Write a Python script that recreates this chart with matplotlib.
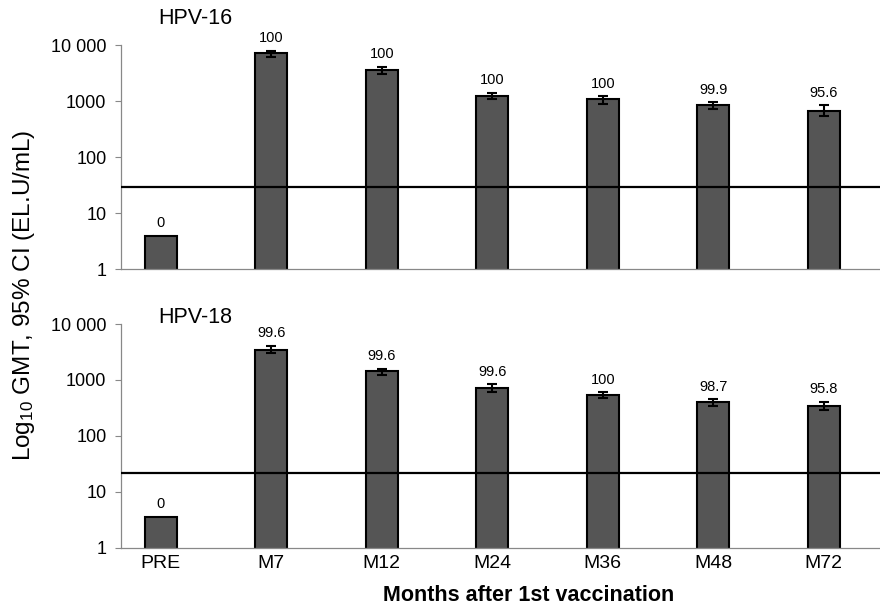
import numpy as np
from matplotlib import pyplot as plt

plt.rcParams['font.family'] = ['Liberation Sans', 'DejaVu Sans']
plt.rcParams['mathtext.fontset'] = 'custom'
plt.rcParams['mathtext.rm'] = 'Liberation Sans'
plt.rcParams['mathtext.it'] = 'Liberation Sans:italic'

# data
cats = ['PRE', 'M7', 'M12', 'M24', 'M36', 'M48', 'M72']
nan = np.nan

hpv16_gmt = [4.0, 7200, 3580, 1245, 1086, 849, 671]
hpv16_hi = [nan, 7910, 4100, 1416, 1216, 951, 849]
hpv16_lo = [nan, 6030, 3040, 1075, 902, 713, 549]
hpv16_sero = ['0', '100', '100', '100', '100', '99.9', '95.6']
hpv16_cut = 30

hpv18_gmt = [3.54, 3440, 1440, 728, 539, 399, 347]
hpv18_hi = [nan, 4110, 1574, 838, 603, 452, 409]
hpv18_lo = [nan, 3000, 1213, 617, 471, 343, 290]
hpv18_sero = ['0', '99.6', '99.6', '99.6', '100', '98.7', '95.8']
hpv18_cut = 22

panels = [('HPV-16', hpv16_gmt, hpv16_lo, hpv16_hi, hpv16_sero, hpv16_cut, 19),
          ('HPV-18', hpv18_gmt, hpv18_lo, hpv18_hi, hpv18_sero, hpv18_cut, 4.5)]

fig = plt.figure(figsize=(8.8, 6.06), dpi=100)
ax1 = fig.add_axes([0.1375, 0.5556, 0.8625, 0.370])
ax2 = fig.add_axes([0.1375, 0.0962, 0.8625, 0.369])

x = np.arange(len(cats))
for ax, (name, gmt, lo, hi, sero, cut, toff) in zip([ax1, ax2], panels):
    gmt = np.array(gmt)
    lo = np.array(lo)
    hi = np.array(hi)
    ax.bar(x, gmt, width=0.29, color='#555555', edgecolor='black', linewidth=1.5, zorder=2)
    ax.errorbar(x, gmt, yerr=[gmt - lo, hi - gmt], fmt='none', ecolor='black',
                elinewidth=1.5, capsize=3.5, capthick=1.5, zorder=3)
    ax.axhline(cut, color='black', linewidth=1.6, zorder=4)
    for xi, g, h, s in zip(x, gmt, hi, sero):
        top = g if np.isnan(h) else h
        ax.annotate(s, (xi, top), xytext=(0, 4), textcoords='offset points',
                    ha='center', va='bottom', fontsize=10.5)
    ax.set_yscale('log')
    ax.set_ylim(1, 10000)
    ax.set_xlim(-0.36, 6.51)
    ax.set_yticks([1, 10, 100, 1000, 10000])
    ax.set_yticklabels(['1', '10', '100', '1000', '10 000'], fontsize=13)
    ax.minorticks_off()
    ax.tick_params(axis='y', length=4.5, color='#888888', width=0.8, pad=6)
    ax.tick_params(axis='x', length=0, labelsize=14, pad=5)
    ax.set_xticks(x)
    for sp in ['top', 'right']:
        ax.spines[sp].set_visible(False)
    for sp in ['left', 'bottom']:
        ax.spines[sp].set_color('#888888')
        ax.spines[sp].set_linewidth(0.9)
    ax.annotate(name, (0.0975, 1.0), xycoords='axes fraction', xytext=(0, toff),
                textcoords='offset points', ha='center', va='center', fontsize=15.5)

ax1.set_xticklabels([])
ax2.set_xticklabels(cats)
fig.text(0.601, 0.018, 'Months after 1st vaccination', fontsize=15.5, fontweight='bold',
         ha='center', va='center')
fig.text(0.027, 0.513, r'Log$_{10}$ GMT, 95% CI (EL.U/mL)', rotation=90,
         ha='center', va='center', fontsize=17.5)

fig.savefig('out.png', dpi=100)
